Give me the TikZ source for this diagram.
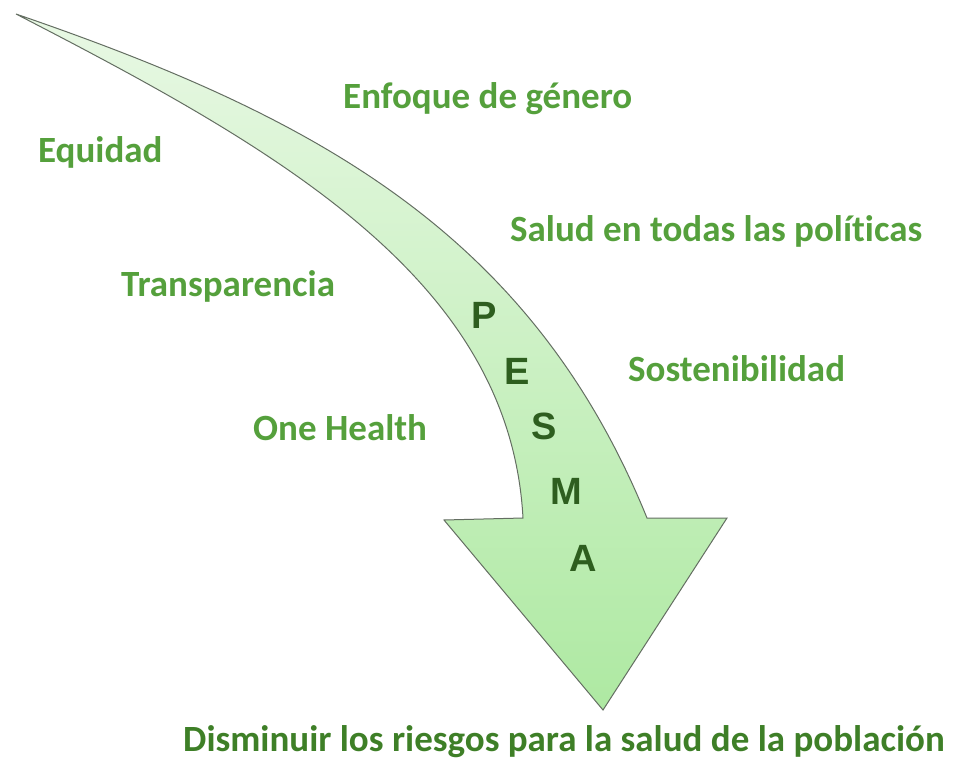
\documentclass[tikz,border=0pt]{standalone}
\usepackage{fontspec}
\setmainfont{Carlito}[Ligatures=NoCommon]
\newfontfamily\lettersfont{Liberation Sans}
\definecolor{lbl}{HTML}{55A03C}
\definecolor{goal}{HTML}{3E7F27}
\definecolor{ltr}{HTML}{2E5E1F}
\definecolor{arrtop}{HTML}{E8F8E4}
\definecolor{arrbot}{HTML}{AEE9A2}
\definecolor{arredge}{HTML}{646E62}
\tikzset{
  lab/.style={anchor=base west, inner sep=0pt, text=lbl, font=\fontsize{37}{44}\selectfont\bfseries},
  goallab/.style={anchor=base west, inner sep=0pt, text=goal, font=\fontsize{37}{44}\selectfont\bfseries},
  letter/.style={anchor=base, inner sep=0pt, text=ltr, font=\lettersfont\fontsize{38}{44}\selectfont\bfseries},
}
\begin{document}
\begin{tikzpicture}[x=1pt,y=-1pt]
\useasboundingbox (0,0) rectangle (956,760);
% curved arrow
\path[draw=arredge, line width=1pt, line join=miter, top color=arrtop, bottom color=arrbot]
  (16,14) .. controls (310,115) and (530,230) .. (647,518)
  -- (727,518) -- (603,710) -- (444,520) -- (523,518)
  .. controls (510,280) and (280,150) .. (16,14) -- cycle;
% labels
\node[lab] (gen) at (343,108) {Enfoque de género};
\node[lab] (equ) at (38,162) {Equidad};
\node[lab] (sal) at (510,241) {Salud en todas las políticas};
\node[lab] (tra) at (121,296) {Transparencia};
\node[lab] (sos) at (628,381) {Sostenibilidad};
\node[lab] (one) at (253,440) {One Health};
\node[goallab] (goal) at (183,751) {Disminuir los riesgos para la salud de la población};
% PESMA
\node[letter] (p) at (484,328) {P};
\node[letter] (e) at (517,384) {E};
\node[letter] (s) at (544,439) {S};
\node[letter] (m) at (566,504) {M};
\node[letter] (a) at (583,571) {A};
\end{tikzpicture}
\end{document}
